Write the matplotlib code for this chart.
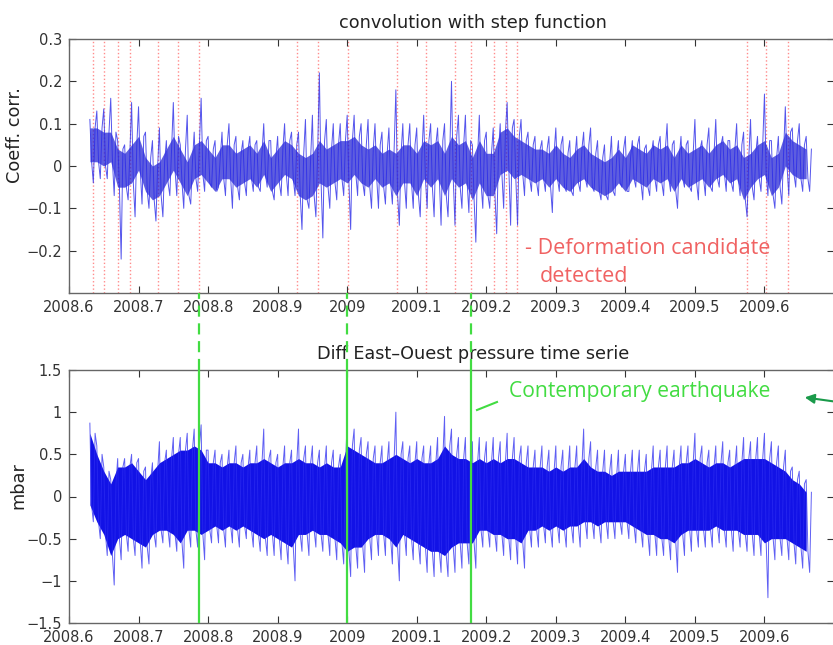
import numpy as np
import matplotlib
matplotlib.use('Agg')
import matplotlib.pyplot as plt
from matplotlib.patches import FancyArrowPatch

# sample grid (years), one reading every 0.01 yr
t = np.round(np.arange(2008.63, 2009.665, 0.01), 2)

# top panel: correlation coefficient, spike tops / spike bottoms
corr_hi = [0.11, 0.13, 0.135, 0.16, 0.06, 0.05, 0.15, 0.14, 0.08, 0.06,
           0.09, 0.06, 0.15, 0.05, 0.12, 0.08, 0.16, 0.07, 0.06, 0.08,
           0.10, 0.07, 0.06, 0.07, 0.06, 0.10, 0.06, 0.07, 0.10, 0.08,
           0.08, 0.11, 0.12, 0.22, 0.11, 0.10, 0.10,
           0.12, 0.12, 0.10, 0.11, 0.10, 0.08, 0.09, 0.18, 0.10, 0.10,
           0.09, 0.12, 0.10, 0.09, 0.10, 0.20, 0.12, 0.12, 0.05, 0.12,
           0.08, 0.09, 0.10, 0.15, 0.11, 0.11, 0.08, 0.07, 0.06, 0.07,
           0.09, 0.07, 0.06, 0.07, 0.08, 0.09, 0.06, 0.05, 0.07, 0.06,
           0.07, 0.06, 0.07, 0.05, 0.06, 0.07, 0.10, 0.06, 0.07, 0.06,
           0.11, 0.06, 0.09, 0.11, 0.07, 0.06, 0.10, 0.08, 0.11, 0.07,
           0.17, 0.06, 0.07, 0.14, 0.09, 0.10, 0.07]
corr_lo = [-0.04, -0.03, -0.03, -0.07, -0.22, -0.08, -0.12, -0.09, -0.10, -0.13,
           -0.12, -0.07, -0.07, -0.10, -0.09, -0.06, -0.06, -0.05, -0.05, -0.07,
           -0.10, -0.08, -0.07, -0.06, -0.06, -0.05, -0.08, -0.07, -0.07, -0.07,
           -0.15, -0.10, -0.12, -0.17, -0.10, -0.08, -0.07,
           -0.15, -0.07, -0.07, -0.10, -0.10, -0.09, -0.09, -0.14, -0.10, -0.10,
           -0.12, -0.10, -0.12, -0.14, -0.12, -0.14, -0.10, -0.11, -0.18, -0.10,
           -0.10, -0.16, -0.10, -0.14, -0.14, -0.07, -0.06, -0.07, -0.06, -0.11,
           -0.06, -0.06, -0.07, -0.06, -0.05, -0.06, -0.08, -0.08, -0.07, -0.05,
           -0.06, -0.05, -0.08, -0.07, -0.06, -0.07, -0.06, -0.10, -0.05, -0.06,
           -0.08, -0.07, -0.06, -0.05, -0.06, -0.06, -0.07, -0.12, -0.08, -0.06,
           -0.07, -0.10, -0.09, -0.07, -0.05, -0.06, -0.06]
# dense dark core of the top trace (upper / lower edge)
core_hi = [0.09, 0.09, 0.08, 0.08, 0.04, 0.03, 0.05, 0.07, 0.02, 0.00,
           0.01, 0.04, 0.07, 0.04, 0.01, 0.05, 0.06, 0.04, 0.02, 0.05,
           0.05, 0.03, 0.04, 0.05, 0.03, 0.06, 0.02, 0.04, 0.06, 0.05,
           0.03, 0.02, 0.03, 0.06, 0.04, 0.05, 0.06,
           0.06, 0.07, 0.05, 0.04, 0.05, 0.03, 0.04, 0.03, 0.05, 0.05,
           0.03, 0.06, 0.05, 0.06, 0.03, 0.07, 0.05, 0.06, 0.02, 0.06,
           0.03, 0.03, 0.08, 0.09, 0.07, 0.06, 0.05, 0.04, 0.04, 0.03,
           0.05, 0.03, 0.02, 0.04, 0.05, 0.03, 0.02, 0.01, 0.02, 0.04,
           0.02, 0.05, 0.04, 0.03, 0.05, 0.04, 0.05, 0.02, 0.05, 0.03,
           0.04, 0.05, 0.03, 0.05, 0.06, 0.04, 0.05, 0.02, 0.03, 0.05,
           0.06, 0.02, 0.03, 0.08, 0.06, 0.05, 0.04]
core_lo = [0.01, 0.01, 0.00, 0.01, -0.05, -0.05, -0.04, -0.01, -0.06, -0.08,
           -0.07, -0.04, -0.01, -0.04, -0.07, -0.03, -0.02, -0.04, -0.06, -0.03,
           -0.03, -0.05, -0.04, -0.03, -0.05, -0.02, -0.06, -0.04, -0.02, -0.03,
           -0.07, -0.08, -0.07, -0.04, -0.05, -0.04, -0.03,
           -0.04, -0.02, -0.04, -0.05, -0.03, -0.05, -0.04, -0.07, -0.04, -0.04,
           -0.07, -0.03, -0.05, -0.03, -0.07, -0.03, -0.05, -0.04, -0.08, -0.04,
           -0.07, -0.07, -0.02, -0.01, -0.03, -0.02, -0.03, -0.04, -0.03, -0.05,
           -0.03, -0.05, -0.06, -0.04, -0.03, -0.05, -0.06, -0.07, -0.06, -0.04,
           -0.06, -0.03, -0.04, -0.05, -0.03, -0.04, -0.03, -0.06, -0.03, -0.05,
           -0.04, -0.03, -0.05, -0.03, -0.02, -0.04, -0.03, -0.08, -0.05, -0.03,
           -0.02, -0.07, -0.05, 0.00, -0.02, -0.03, -0.03]

# bottom panel: pressure difference (mbar), spikes and dense band edges
p_hi = [0.87, 0.60, 0.35, 0.20, 0.45, 0.45, 0.50, 0.45, 0.35, 0.40,
        0.65, 0.55, 0.70, 0.70, 0.75, 0.80, 0.85, 0.55, 0.55, 0.50,
        0.55, 0.60, 0.50, 0.55, 0.60, 0.80, 0.55, 0.50, 0.60, 0.55,
        0.80, 0.60, 0.60, 0.55, 0.60, 0.55, 0.50,
        0.90, 0.80, 0.70, 0.65, 0.60, 0.60, 0.65, 1.00, 0.65, 0.60,
        0.65, 0.60, 0.60, 0.70, 0.95, 0.80, 0.70, 0.70, 0.65, 0.70,
        0.65, 0.70, 0.65, 0.75, 0.70, 0.60, 0.60, 0.55, 0.60, 0.55,
        0.60, 0.55, 0.60, 0.60, 0.80, 0.65, 0.55, 0.55, 0.50, 0.55,
        0.50, 0.55, 0.55, 0.50, 0.60, 0.55, 0.60, 0.55, 0.60, 0.60,
        0.75, 0.60, 0.55, 0.60, 0.65, 0.55, 0.60, 0.70, 0.65, 0.70,
        0.75, 0.65, 0.60, 0.55, 0.35, 0.30, 0.20]
p_lo = [-0.30, -0.50, -0.70, -1.05, -0.75, -0.65, -0.70, -0.85, -0.80, -0.60,
        -0.55, -0.60, -0.65, -0.85, -0.60, -0.60, -0.75, -0.55, -0.55, -0.60,
        -0.55, -0.60, -0.50, -0.60, -0.65, -0.70, -0.70, -0.75, -0.80, -1.00,
        -0.65, -0.70, -0.60, -0.65, -0.70, -0.75, -0.80,
        -0.95, -0.85, -0.90, -0.75, -0.70, -0.70, -0.80, -1.00, -0.70, -0.75,
        -0.80, -0.90, -0.95, -0.90, -0.95, -0.90, -0.85, -0.80, -0.85, -0.60,
        -0.60, -0.65, -0.70, -0.75, -0.80, -0.85, -0.60, -0.60, -0.55, -0.60,
        -0.55, -0.60, -0.55, -0.60, -0.50, -0.50, -0.55, -0.50, -0.50, -0.45,
        -0.50, -0.55, -0.60, -0.70, -0.70, -0.70, -0.75, -0.90, -0.70, -0.65,
        -0.60, -0.60, -0.60, -0.55, -0.60, -0.65, -0.60, -0.65, -0.70, -0.70,
        -1.20, -0.75, -0.70, -0.75, -0.80, -0.85, -0.90]
band_hi = [0.75, 0.50, 0.30, 0.15, 0.35, 0.35, 0.40, 0.30, 0.20, 0.30,
           0.40, 0.45, 0.50, 0.55, 0.55, 0.60, 0.55, 0.40, 0.40, 0.35,
           0.40, 0.40, 0.35, 0.40, 0.40, 0.45, 0.40, 0.35, 0.40, 0.40,
           0.45, 0.40, 0.40, 0.35, 0.40, 0.35, 0.35,
           0.60, 0.55, 0.50, 0.45, 0.40, 0.40, 0.45, 0.50, 0.45, 0.40,
           0.45, 0.40, 0.40, 0.45, 0.60, 0.50, 0.45, 0.45, 0.40, 0.45,
           0.40, 0.45, 0.40, 0.45, 0.45, 0.40, 0.35, 0.35, 0.35, 0.30,
           0.35, 0.30, 0.35, 0.35, 0.45, 0.35, 0.30, 0.30, 0.25, 0.30,
           0.30, 0.30, 0.30, 0.30, 0.35, 0.35, 0.35, 0.35, 0.40, 0.40,
           0.45, 0.40, 0.35, 0.40, 0.40, 0.35, 0.40, 0.45, 0.45, 0.45,
           0.45, 0.40, 0.35, 0.30, 0.20, 0.15, 0.05]
band_lo = [-0.10, -0.30, -0.45, -0.70, -0.50, -0.45, -0.50, -0.55, -0.60, -0.45,
           -0.40, -0.40, -0.45, -0.55, -0.40, -0.40, -0.45, -0.40, -0.35, -0.40,
           -0.35, -0.40, -0.35, -0.40, -0.45, -0.50, -0.45, -0.50, -0.55, -0.60,
           -0.45, -0.45, -0.40, -0.45, -0.45, -0.50, -0.55,
           -0.65, -0.60, -0.60, -0.50, -0.45, -0.45, -0.50, -0.60, -0.45, -0.50,
           -0.55, -0.60, -0.65, -0.65, -0.70, -0.60, -0.55, -0.55, -0.55, -0.40,
           -0.40, -0.45, -0.45, -0.50, -0.50, -0.55, -0.40, -0.40, -0.35, -0.40,
           -0.35, -0.40, -0.35, -0.35, -0.30, -0.30, -0.35, -0.30, -0.30, -0.30,
           -0.30, -0.35, -0.40, -0.45, -0.45, -0.50, -0.50, -0.55, -0.45, -0.40,
           -0.40, -0.40, -0.40, -0.35, -0.40, -0.40, -0.40, -0.45, -0.45, -0.45,
           -0.55, -0.50, -0.50, -0.50, -0.55, -0.60, -0.65]

# detected deformation candidates (red dotted) and earthquakes (green)
candidates = [2008.634, 2008.650, 2008.670, 2008.688, 2008.728, 2008.757, 2008.787,
              2008.928, 2008.958, 2009.001, 2009.072, 2009.113, 2009.155, 2009.178,
              2009.211, 2009.228, 2009.244, 2009.575, 2009.602, 2009.634]
quakes = [2008.787, 2009.0, 2009.178]

xticks = [2008.6, 2008.7, 2008.8, 2008.9, 2009.0, 2009.1, 2009.2, 2009.3, 2009.4, 2009.5, 2009.6]
xlabels = ['2008.6', '2008.7', '2008.8', '2008.9', '2009', '2009.1', '2009.2',
           '2009.3', '2009.4', '2009.5', '2009.6']

plt.rcParams['font.family'] = ['DejaVu Sans']
blue = '#1212e6'
green = '#42dc42'
W, H = 833.0, 645.0


def spikes(x, hi, lo, mid_hi, mid_lo):
    # four readings per step: spike top, core bottom, spike bottom, core top
    xs, ys = [], []
    for xi, a, b, c, d in zip(x, hi, mid_lo, lo, mid_hi):
        xs += [xi, xi + 0.0025, xi + 0.005, xi + 0.0075]
        ys += [a, b, c, d]
    return xs, ys


def style(ax):
    ax.set_xlim(2008.6, 2009.7)
    ax.set_xticks(xticks)
    ax.set_xticklabels(xlabels)
    ax.tick_params(direction='in', top=True, right=True, length=5, width=0.8,
                   labelsize=10.5, colors='#333333', pad=5)
    for s in ax.spines.values():
        s.set_color('#666666')
        s.set_linewidth(1.0)


fig = plt.figure(figsize=(8.33, 6.45), dpi=100)
ax1 = fig.add_axes([69 / W, 1 - 293 / H, (834 - 69) / W, (293 - 39) / H])
ax2 = fig.add_axes([69 / W, 1 - 623 / H, (834 - 69) / W, (623 - 370) / H])

# top panel
for c in candidates:
    ax1.axvline(c, color='#ff8c8c', ls=':', lw=1.0, zorder=1)
ax1.fill_between(t, core_lo, core_hi, color='#1a1ad2', alpha=0.7, lw=0, zorder=2)
zx, zy = spikes(t, corr_hi, corr_lo, core_hi, core_lo)
ax1.plot(zx, zy, color='#2a2ae8', lw=0.7, alpha=0.8, zorder=3)
style(ax1)
ax1.set_ylim(-0.3, 0.3)
ax1.set_yticks([-0.2, -0.1, 0, 0.1, 0.2, 0.3])
ax1.set_yticklabels(['\u22120.2', '\u22120.1', '0', '0.1', '0.2', '0.3'])
ax1.set_title('convolution with step function', fontsize=12.7, color='#222222',
              pad=8, x=0.528)
ax1.set_ylabel('Coeff. corr.', fontsize=12.8, color='#222222')
ax1.yaxis.set_label_coords(-0.059, 0.62)

# bottom panel
ax2.fill_between(t, band_lo, band_hi, color=blue, lw=0, zorder=2)
zx, zy = spikes(t, p_hi, p_lo, band_hi, band_lo)
ax2.plot(zx, zy, color='#2a2af0', lw=0.7, alpha=0.75, zorder=2)
for q in quakes:
    ax2.axvline(q, color=green, lw=1.6, zorder=4)
    ax2.axvline(q, ymin=1.0, ymax=1 + (370 - 293) / 253.0, color=green, lw=1.6,
                ls=(0, (5, 3)), clip_on=False, zorder=4)
style(ax2)
ax2.set_ylim(-1.5, 1.5)
ax2.set_yticks([-1.5, -1, -0.5, 0, 0.5, 1, 1.5])
ax2.set_yticklabels(['\u22121.5', '\u22121', '\u22120.5', '0', '0.5', '1', '1.5'])
ax2.set_title('Diff East\u2013Ouest pressure time serie', fontsize=12.7, color='#222222',
              pad=8, x=0.528)
ax2.set_ylabel('mbar', fontsize=12.8, color='#222222')
ax2.yaxis.set_label_coords(-0.055, 0.545)

# annotations
red = '#f06262'
fig.text(525 / W, 1 - 248 / H, '- Deformation candidate', color=red,
         fontsize=15.5, family='Open Sans', va='center')
fig.text(540 / W, 1 - 277 / H, 'detected', color=red,
         fontsize=15.5, family='Open Sans', va='center')
fig.text(509 / W, 1 - 392 / H, 'Contemporary earthquake', color=green,
         fontsize=15.2, family='Open Sans', va='center')
fig.add_artist(plt.Line2D([477 / W, 497 / W], [1 - 410 / H, 1 - 402 / H],
                          color=green, lw=1.5, transform=fig.transFigure))
fig.add_artist(FancyArrowPatch(
    (845 / W, 1 - 403 / H), (802 / W, 1 - 397 / H), transform=fig.transFigure,
    arrowstyle='-|>', mutation_scale=14, color='#1a9a4a', lw=1.5))

fig.savefig('out.png', dpi=100)
